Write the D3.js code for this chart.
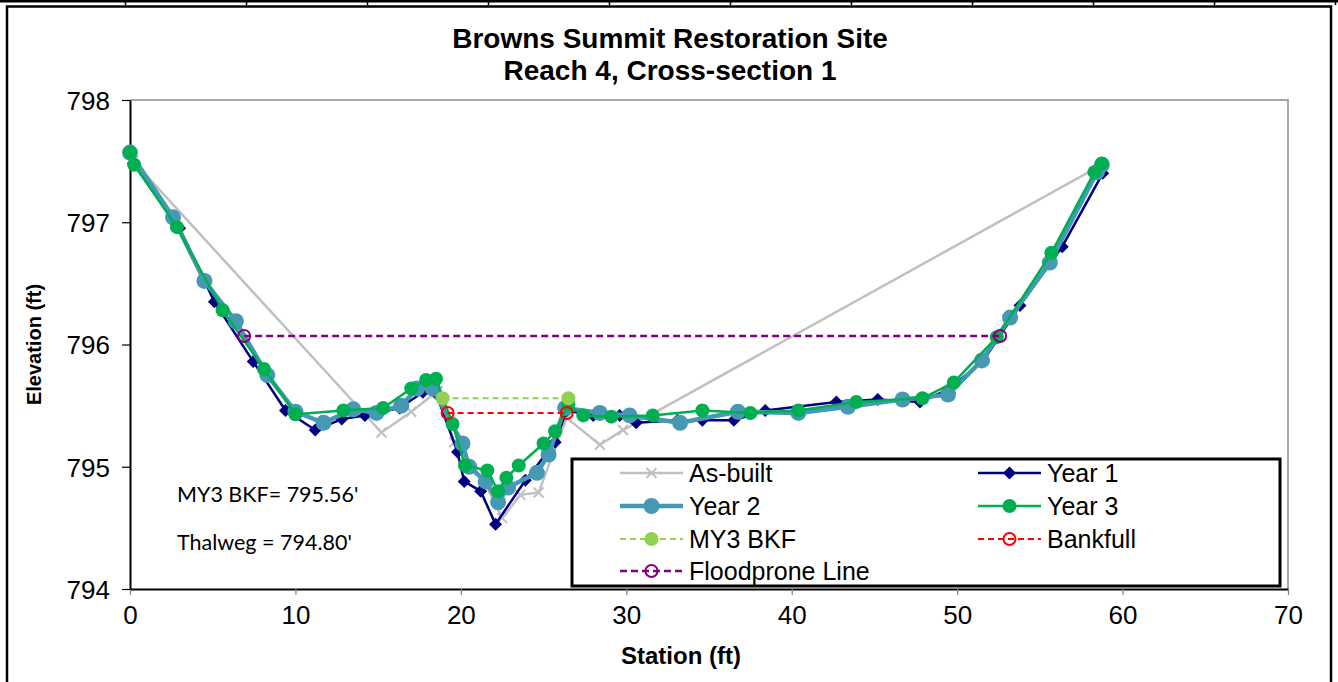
<!DOCTYPE html>
<html>
<head>
<meta charset="utf-8">
<script src="https://cdn.jsdelivr.net/npm/d3@7"></script>
<style>
  html, body { margin: 0; padding: 0; background: #fff; }
  svg { display: block; }
  text { font-family: "Liberation Sans", Arial, sans-serif; }
</style>
</head>
<body>
<svg id="chart" width="1338" height="682"></svg>
<script>
// Cross-section survey: station (ft) vs elevation (ft)
const asBuiltSta  = [0.2, 15.2, 17.0, 18.6, 19.6, 21.4, 22.5, 23.6, 24.7, 26.4, 28.4, 29.8, 58.75];
const asBuiltElev = [797.50, 795.28, 795.45, 795.62, 795.20, 794.88, 794.58, 794.77, 794.79, 795.40, 795.18, 795.30, 797.47];

const year1Sta  = [0, 0.2, 3.0, 5.1, 7.45, 9.4, 11.2, 12.8, 14.2, 16.3, 17.7, 18.5, 19.8, 20.2, 21.2, 22.1, 23.9, 25.7, 26.4, 28.0, 29.6, 30.6, 33.1, 34.6, 36.5, 38.4, 42.7, 45.2, 47.75, 49.45, 51.6, 53.8, 56.35, 58.8];
const year1Elev = [797.55, 797.48, 796.95, 796.35, 795.86, 795.46, 795.30, 795.39, 795.42, 795.48, 795.61, 795.60, 795.12, 794.88, 794.80, 794.53, 794.89, 795.20, 795.46, 795.42, 795.42, 795.36, 795.38, 795.38, 795.38, 795.46, 795.53, 795.55, 795.53, 795.63, 795.87, 796.32, 796.80, 797.40];

const year2Sta  = [0, 2.6, 4.5, 6.4, 8.3, 10.0, 11.7, 13.5, 14.9, 16.4, 17.35, 18.3, 20.1, 20.5, 21.5, 22.25, 22.85, 24.6, 25.3, 26.3, 28.4, 30.2, 33.25, 36.75, 40.4, 43.4, 46.7, 49.45, 51.5, 53.2, 55.6, 58.45, 58.75];
const year2Elev = [797.57, 797.04, 796.52, 796.19, 795.75, 795.45, 795.36, 795.47, 795.44, 795.50, 795.64, 795.64, 795.19, 795.00, 794.88, 794.71, 794.83, 794.95, 795.10, 795.48, 795.44, 795.42, 795.36, 795.45, 795.44, 795.49, 795.55, 795.59, 795.87, 796.22, 796.67, 797.41, 797.47];

const year3Sta  = [0, 0.25, 2.84, 5.6, 8.1, 10.0, 12.9, 15.3, 17.0, 17.9, 18.5, 19.5, 20.25, 21.6, 22.25, 22.75, 23.5, 25.0, 25.7, 26.5, 27.4, 29.1, 31.6, 34.6, 37.5, 40.4, 43.9, 47.9, 49.8, 52.4, 55.7, 58.3, 58.75];
const year3Elev = [797.57, 797.47, 796.96, 796.28, 795.80, 795.43, 795.46, 795.48, 795.64, 795.71, 795.72, 795.35, 795.01, 794.97, 794.80, 794.91, 795.01, 795.19, 795.29, 795.51, 795.42, 795.41, 795.42, 795.46, 795.44, 795.46, 795.53, 795.56, 795.69, 796.06, 796.75, 797.41, 797.48];

const my3BkfSta  = [18.9, 26.5];
const my3BkfElev = [795.56, 795.56];

const bankfullSta  = [19.2, 26.4];
const bankfullElev = [795.44, 795.44];

const floodproneSta  = [6.9, 52.6];
const floodproneElev = [796.07, 796.07];

const xTicks = [0, 10, 20, 30, 40, 50, 60, 70];
const yTicks = [794, 795, 796, 797, 798];

const titleLines = ["Browns Summit Restoration Site", "Reach 4, Cross-section 1"];
const notes = ["MY3 BKF= 795.56'", "Thalweg = 794.80'"];

const zip = (a, b) => a.map((v, i) => [v, b[i]]);

const svg = d3.select("#chart");

// page frame and the table rule above it
svg.append("rect").attr("x", 0).attr("y", 0).attr("width", 1338).attr("height", 2.5).attr("fill", "#000");
d3.range(11).forEach(i => {
  const xx = 125.5 + i * 121;
  svg.append("line").attr("x1", xx).attr("x2", xx).attr("y1", 0).attr("y2", 5)
    .attr("stroke", "#000").attr("stroke-width", 1.5);
});
svg.append("rect").attr("x", 7).attr("y", 6.5).attr("width", 1324).attr("height", 700)
  .attr("fill", "none").attr("stroke", "#000").attr("stroke-width", 2.5);

const plot = { left: 130, right: 1288, top: 100, bottom: 589 };
const x = d3.scaleLinear().domain([0, 70]).range([plot.left, plot.right]);
const y = d3.scaleLinear().domain([794, 798]).range([plot.bottom, plot.top]);

// plot area outline (top/right light grey)
svg.append("path")
  .attr("d", `M${plot.left},${plot.top}H${plot.right}V${plot.bottom}`)
  .attr("fill", "none").attr("stroke", "#8c8c8c").attr("stroke-width", 1.5);

// axes
const fmt = d3.format("d");
const xAxis = svg.append("g").attr("transform", `translate(0,${plot.bottom})`)
  .call(d3.axisBottom(x).tickValues(xTicks).tickFormat(fmt).tickSize(6).tickSizeOuter(0).tickPadding(11));
const yAxis = svg.append("g").attr("transform", `translate(${plot.left},0)`)
  .call(d3.axisLeft(y).tickValues(yTicks).tickFormat(fmt).tickSize(8).tickSizeOuter(0).tickPadding(12));
[xAxis, yAxis].forEach(g => {
  g.select(".domain").attr("stroke", "#000").attr("stroke-width", 2);
  g.selectAll(".tick line").attr("stroke", "#000").attr("stroke-width", 1.2);
  g.selectAll(".tick text").attr("fill", "#000").style("font-size", "26px")
    .style("font-family", "'Liberation Sans', Arial, sans-serif");
});
xAxis.selectAll(".tick line").attr("stroke", "#808080");
yAxis.selectAll(".tick text").attr("dy", "0.36em");

// titles
titleLines.forEach((t, i) => {
  svg.append("text").attr("x", 670).attr("y", 48 + i * 32).attr("text-anchor", "middle")
    .style("font-size", "28px").style("font-weight", "bold").text(t);
});
svg.append("text").attr("transform", `translate(41,${(plot.top + plot.bottom) / 2}) rotate(-90)`)
  .attr("text-anchor", "middle").style("font-size", "20px").style("font-weight", "bold")
  .text("Elevation (ft)");
svg.append("text").attr("x", 681).attr("y", 664).attr("text-anchor", "middle")
  .style("font-size", "24px").style("font-weight", "bold").text("Station (ft)");

// notes
notes.forEach((t, i) => {
  svg.append("text").attr("x", 177).attr("y", 502 + i * 48)
    .style("font-family", "Lato, 'Open Sans', sans-serif").style("font-size", "21.5px").text(t);
});

// marker drawers
const markers = {
  x: (g, s) => g.append("path").attr("d", "M-5,-5L5,5M-5,5L5,-5").attr("stroke", s.color).attr("stroke-width", 2).attr("fill", "none"),
  diamond: (g, s) => g.append("path").attr("d", "M0,-6.5L6.5,0L0,6.5L-6.5,0Z").attr("fill", s.color),
  dot: (g, s) => g.append("circle").attr("r", s.r).attr("fill", s.color),
  ring: (g, s) => g.append("circle").attr("r", 6).attr("fill", "none").attr("stroke", s.color).attr("stroke-width", 2)
};

const series = [
  { name: "As-built", sta: asBuiltSta, elev: asBuiltElev, color: "#c0c0c0", width: 2.5, dash: null, marker: "x" },
  { name: "Year 1", sta: year1Sta, elev: year1Elev, color: "#000080", width: 2.5, dash: null, marker: "diamond" },
  { name: "Year 2", sta: year2Sta, elev: year2Elev, color: "#4599b3", width: 4.5, dash: null, marker: "dot", r: 8 },
  { name: "Year 3", sta: year3Sta, elev: year3Elev, color: "#00b050", width: 2.5, dash: null, marker: "dot", r: 7 },
  { name: "MY3 BKF", sta: my3BkfSta, elev: my3BkfElev, color: "#92d050", width: 2, dash: "6,4", marker: "dot", r: 7 },
  { name: "Bankfull", sta: bankfullSta, elev: bankfullElev, color: "#ff0000", width: 2, dash: "6,4", marker: "ring" },
  { name: "Floodprone Line", sta: floodproneSta, elev: floodproneElev, color: "#800080", width: 2.5, dash: "7,4", marker: "ring" }
];

const line = d3.line().x(d => x(d[0])).y(d => y(d[1]));

series.forEach(s => {
  const pts = zip(s.sta, s.elev);
  const g = svg.append("g");
  g.append("path").attr("d", line(pts)).attr("fill", "none").attr("stroke", s.color)
    .attr("stroke-width", s.width).attr("stroke-dasharray", s.dash).attr("stroke-linejoin", "round");
  pts.forEach(p => {
    const m = g.append("g").attr("transform", `translate(${x(p[0])},${y(p[1])})`);
    markers[s.marker](m, s);
  });
});

// legend
const lg = svg.append("g");
lg.append("rect").attr("x", 572).attr("y", 459).attr("width", 708).attr("height", 127)
  .attr("fill", "#fff").attr("stroke", "#000").attr("stroke-width", 3);
const cols = [620, 978];
const rows = [473, 506, 539, 571];
series.forEach((s, i) => {
  const cx = cols[i % 2], cy = rows[Math.floor(i / 2)];
  const item = lg.append("g").attr("transform", `translate(${cx},${cy})`);
  item.append("line").attr("x1", 0).attr("x2", 63).attr("y1", 0).attr("y2", 0)
    .attr("stroke", s.color).attr("stroke-width", s.width).attr("stroke-dasharray", s.dash);
  markers[s.marker](item.append("g").attr("transform", "translate(31.5,0)"), s);
  item.append("text").attr("x", 69).attr("y", 0).attr("dy", "0.36em")
    .style("font-size", "25px").text(s.name);
});
</script>
</body>
</html>
